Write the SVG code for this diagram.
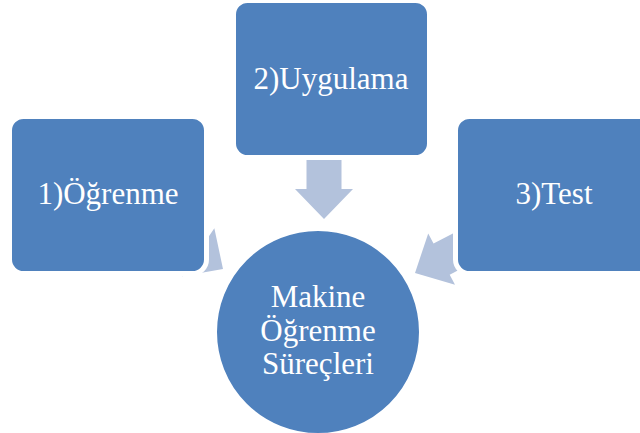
<svg xmlns="http://www.w3.org/2000/svg" width="640" height="433" viewBox="0 0 640 433">
<style>
.box{fill:#4F81BD;stroke:#FFFFFF;stroke-width:5}
.arrow{fill:#B3C2DC}
.lbl{font-family:"Liberation Serif","Times New Roman",serif;font-size:31px;fill:#FFFFFF;text-anchor:middle}
</style>
<defs>
<polygon id="blockArrow" points="0,0 -29,-30 -17.5,-30 -17.5,-60 17.5,-60 17.5,-30 29,-30"/>
</defs>
<rect width="640" height="433" fill="#FFFFFF"/>
<g id="connectors">
<use href="#blockArrow" class="arrow" transform="translate(223,269) rotate(-56)"/>
<use href="#blockArrow" class="arrow" transform="translate(324,219)"/>
<use href="#blockArrow" class="arrow" transform="translate(415,273) rotate(62.5)"/>
</g>
<g id="node1">
<rect class="box" x="9.5" y="116.5" width="197" height="157" rx="14"/>
<text class="lbl" x="108" y="204">1)Öğrenme</text>
</g>
<g id="node2">
<rect class="box" x="233.5" y="0.5" width="196" height="157" rx="14"/>
<text class="lbl" x="331" y="89">2)Uygulama</text>
</g>
<g id="node3">
<rect class="box" x="455.5" y="116.5" width="197" height="157" rx="14"/>
<text class="lbl" x="554" y="204">3)Test</text>
</g>
<g id="center">
<circle cx="318" cy="332" r="102" fill="#4F81BD" stroke="#FFFFFF" stroke-width="2"/>
<text class="lbl" x="318" y="307">Makine</text>
<text class="lbl" x="318" y="341">Öğrenme</text>
<text class="lbl" x="318" y="374">Süreçleri</text>
</g>
</svg>
